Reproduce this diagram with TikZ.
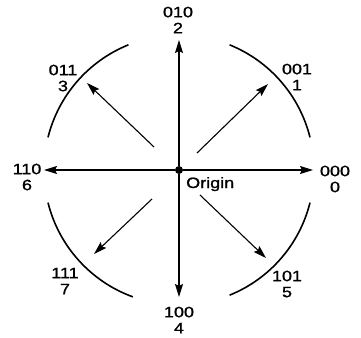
\documentclass[tikz,border=0pt]{standalone}
\usepackage{fontspec}
\newfontfamily\labfont[FakeStretch=1.2,FakeBold=1.2]{Liberation Sans}
\usetikzlibrary{arrows.meta}
\begin{document}
\begin{tikzpicture}[x=1pt,y=1pt,
  lab/.style={font=\labfont\fontsize{15}{16}\selectfont,align=center,inner sep=0pt},
  vec/.style={line width=1.1pt,-{Stealth[length=13pt,width=8pt,inset=2pt]}},
  rim/.style={line width=1.6pt}]
\useasboundingbox (-179,-167) rectangle (182,170);
\node[circle,fill=black,inner sep=0pt,minimum size=8pt] (O) at (0,0) {};
% axis tips
\coordinate (tU) at (0,130);
\coordinate (tD) at (0,-127);
\coordinate (tL) at (-135,0);
\coordinate (tR) at (134,0);
% diagonal arrows
\coordinate (sUR) at (18,17);  \coordinate (tUR) at (89,86);
\coordinate (sUL) at (-25,23); \coordinate (tUL) at (-92,87);
\coordinate (sDL) at (-27,-29);\coordinate (tDL) at (-85,-84);
\coordinate (sDR) at (21,-25); \coordinate (tDR) at (87,-88);
\draw[vec] (O) -- (tU);
\draw[vec] (O) -- (tD);
\draw[vec] (O) -- (tL);
\draw[vec] (O) -- (tR);
\draw[vec] (sUR) -- (tUR);
\draw[vec] (sUL) -- (tUL);
\draw[vec] (sDL) -- (tDL);
\draw[vec] (sDR) -- (tDR);
% arcs
\draw[rim] (14:135) arc[start angle=14,end angle=68,radius=135];
\draw[rim] (112:135) arc[start angle=112,end angle=166,radius=135];
\draw[rim] (194:135) arc[start angle=194,end angle=250,radius=135];
\draw[rim] (292:135) arc[start angle=292,end angle=346,radius=135];
% labels
\node[lab] (l2) at (-1,150) {010\\2};
\node[lab] (l1) at (118,93) {001\\1};
\node[lab] (l3) at (-116,92) {011\\3};
\node[lab] (l6) at (-152,-7) {110\\6};
\node[lab] (l0) at (156,-9) {000\\0};
\node[lab] (l7) at (-114,-111) {111\\7};
\node[lab] (l5) at (108,-114) {101\\5};
\node[lab] (l4) at (0,-150) {100\\4};
\node[lab,anchor=base west] (lo) at (7,-18) {Origin};
\end{tikzpicture}
\end{document}
